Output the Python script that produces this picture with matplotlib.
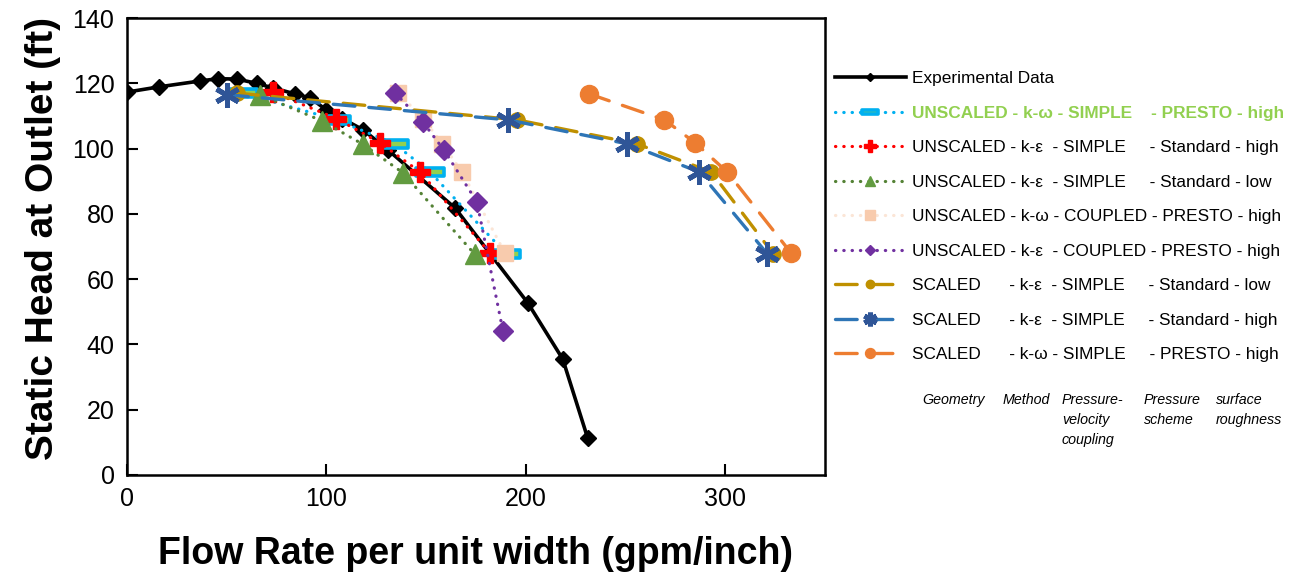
"""Static head vs flow rate: experiment against the CFD runs."""

import matplotlib
matplotlib.use("Agg")
import matplotlib.pyplot as plt
from matplotlib.path import Path

# ── data ──────────────────────────────────────────────────────────────
exp_q = [0, 16, 36.6, 45.5, 55, 65, 73, 84, 92, 100, 108, 118.5, 131, 164.5, 201, 218.5, 231]
exp_h = [117.3, 118.9, 120.7, 121.4, 121.3, 120, 118.6, 116.8, 115.5, 111.8, 109.2, 105.7,
         99.5, 81.8, 52.7, 35.5, 11.3]

uns_kw_simple_q = [58, 105, 134, 152, 190]
uns_kw_simple_h = [117, 108.8, 101.5, 92.8, 67.8]

uns_ke_high_q = [73, 105, 127, 147, 182]
uns_ke_high_h = [117.3, 109.2, 101.7, 92.8, 68]

uns_ke_low_q = [66.7, 97.7, 118.3, 138.3, 174.4]
uns_ke_low_h = [116.5, 108.5, 101.3, 92.6, 67.6]

uns_kw_coupled_q = [136, 148.5, 158, 168, 189.5]
uns_kw_coupled_h = [117, 109.2, 101.5, 92.8, 68]

uns_ke_coupled_q = [134.5, 148.5, 159, 175.5, 188.5]
uns_ke_coupled_h = [117, 108, 99.5, 83.6, 44.2]

sc_ke_low_q = [55, 195.5, 255.5, 293, 324]
sc_ke_low_h = [117, 108.8, 101.5, 92.8, 67.8]

sc_ke_high_q = [50, 191, 250.5, 287, 321]
sc_ke_high_h = [116.5, 108.8, 101.5, 92.8, 67.8]

sc_kw_q = [231.5, 269.5, 285, 301, 333]
sc_kw_h = [116.8, 108.8, 101.7, 92.8, 68]

labels = [
    "Experimental Data",
    "UNSCALED - k-ω - SIMPLE    - PRESTO - high",
    "UNSCALED - k-ε  - SIMPLE     - Standard - high",
    "UNSCALED - k-ε  - SIMPLE     - Standard - low",
    "UNSCALED - k-ω - COUPLED - PRESTO - high",
    "UNSCALED - k-ε  - COUPLED - PRESTO - high",
    "SCALED      - k-ε  - SIMPLE     - Standard - low",
    "SCALED      - k-ε  - SIMPLE     - Standard - high",
    "SCALED      - k-ω - SIMPLE     - PRESTO - high",
]

column_notes = ["Geometry", "Method", "Pressure-\nvelocity\ncoupling", "Pressure\nscheme",
                "surface\nroughness"]

# ── styling ───────────────────────────────────────────────────────────
plt.rcParams["font.family"] = ["Liberation Sans", "DejaVu Sans"]

W, H = 1297, 575
DOT = (0.1, 2.5)
DASH = (6.5, 4.2)

bar = Path([(-1.75, -0.5), (1.75, -0.5), (1.75, 0.5), (-1.75, 0.5), (-1.75, -0.5)],
           [Path.MOVETO, Path.LINETO, Path.LINETO, Path.LINETO, Path.CLOSEPOLY])

fig = plt.figure(figsize=(W / 100, H / 100), dpi=100)
ax = fig.add_axes([127 / W, 100 / H, 698 / W, 457 / H])

handles = []
h, = ax.plot(exp_q, exp_h, color="black", lw=2.6, marker="D", ms=8, zorder=3)
handles.append(h)

series = [
    (uns_kw_simple_q, uns_kw_simple_h,
     dict(color="#00B0F0", marker=bar, ms=20, mfc="#92D050", mec="#00B0F0", mew=2.6)),
    (uns_ke_high_q, uns_ke_high_h,
     dict(color="#FF0000", marker="P", ms=15, mec="#FF0000")),
    (uns_ke_low_q, uns_ke_low_h,
     dict(color="#548235", marker="^", ms=14, mfc="#629B40", mec="#629B40")),
    (uns_kw_coupled_q, uns_kw_coupled_h,
     dict(color="#FBE5D6", marker="s", ms=12, mfc="#F8CBAD", mec="#F8CBAD")),
    (uns_ke_coupled_q, uns_ke_coupled_h,
     dict(color="#7030A0", marker="D", ms=10, mec="#7030A0")),
]
for q, hd, st in series:
    ln, = ax.plot(q, hd, ls=(0, DOT), lw=2.3, dash_capstyle="round", zorder=4, **st)
    handles.append(ln)

dashed = [
    (sc_ke_low_q, sc_ke_low_h,
     dict(color="#BF9000", marker="o", ms=11, mec="#BF9000")),
    (sc_ke_high_q, sc_ke_high_h,
     dict(color="#2E75B6", marker=(6, 2, 0), ms=18, mew=3.6, mec="#2F5597")),
    (sc_kw_q, sc_kw_h,
     dict(color="#ED7D31", marker="o", ms=13, mec="#ED7D31")),
]
for q, hd, st in dashed:
    ln, = ax.plot(q, hd, ls=(0, DASH), lw=2.4, dash_capstyle="round", zorder=5, **st)
    handles.append(ln)

ax.set_xlim(0, 350)
ax.set_ylim(0, 140)
ax.set_xticks([0, 100, 200, 300])
ax.set_yticks(range(0, 141, 20))
ax.tick_params(direction="in", length=8, width=1.5, labelsize=18, pad=9)
for sp in ax.spines.values():
    sp.set_linewidth(1.8)

ax.set_xlabel("Flow Rate per unit width (gpm/inch)", fontsize=27, fontweight="bold", labelpad=18)
ax.set_ylabel("Static Head at Outlet (ft)", fontsize=28, fontweight="bold")
ax.yaxis.set_label_coords(-0.094, 0.517)

leg = fig.legend(handles, labels, loc="upper left", bbox_to_anchor=(835 / W, 1 - 71 / H),
                 frameon=False, fontsize=12.4, handlelength=4.1, handletextpad=0.4,
                 labelspacing=1.13, borderpad=0, borderaxespad=0, markerscale=0.55)
leg.get_texts()[1].set_color("#92D050")
leg.get_texts()[1].set_fontweight("bold")

# column captions under the legend
for x, txt in zip([922, 1003, 1062, 1144, 1216], column_notes):
    fig.text(x / W, 1 - 393 / H, txt, fontsize=10.3, style="italic", va="top",
             linespacing=1.55)

fig.savefig("out.png", dpi=100)
